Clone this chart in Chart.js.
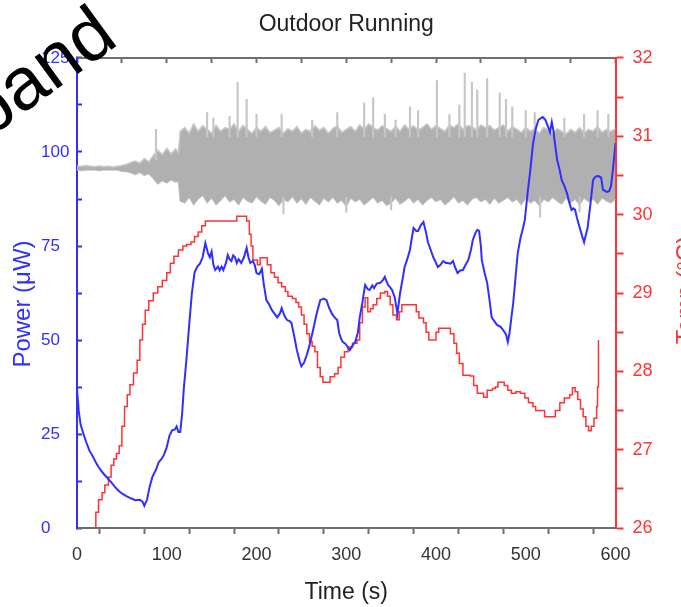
<!DOCTYPE html>
<html>
<head>
<meta charset="utf-8">
<script src="https://cdn.jsdelivr.net/npm/chart.js@4.4.0/dist/chart.umd.min.js"></script>
<style>
  html, body { margin: 0; padding: 0; background: #fff; overflow: hidden; }
  #wrap { width: 681px; height: 607px; }
</style>
</head>
<body>
<div id="wrap"><canvas id="run" width="681" height="607"></canvas></div>
<script>
// axis ticks that carry a label
const timeTicks = [0, 100, 200, 300, 400, 500, 600];
const powerTicks = [0, 25, 50, 75, 100, 125];
const tempTicks = [26, 27, 28, 29, 30, 31, 32];

// harvested power (uW)
const powerT = [0, 2, 4, 7, 10, 14, 18, 22, 26, 30, 34, 38, 42, 46, 50, 55, 60, 65, 70, 73, 75, 78, 81, 84, 88, 91, 94, 97,
    100, 103, 106, 109, 111, 113, 115, 117, 119, 122, 125, 128, 131, 134, 137, 140, 143, 146, 148, 150, 152, 154, 157, 159,
    161, 163, 166, 168, 170, 172, 174, 176, 178, 180, 183, 186, 189, 191, 193, 196, 198, 200, 203, 206, 208, 211, 214, 217,
    220, 223, 226, 228, 231, 234, 237, 239, 242, 245, 248, 250, 253, 256, 259, 263, 267, 271, 275, 278, 281, 284, 287, 290,
    292, 294, 296, 299, 302, 304, 307, 310, 313, 315, 318, 321, 324, 326, 329, 331, 334, 338, 341, 343, 345, 347, 349, 351,
    354, 357, 360, 363, 365, 368, 371, 373, 375, 378, 380, 383, 386, 389, 391, 394, 397, 400, 402, 405, 408, 411, 413, 416,
    419, 421, 424, 427, 430, 433, 436, 439, 441, 444, 446, 448, 450, 451, 454, 457, 460, 462, 465, 468, 472, 475, 478, 480,
    482, 484, 486, 488, 491, 494, 497, 499, 502, 505, 508, 511, 514, 517, 519, 522, 525, 527, 529, 531, 532, 535, 538, 540,
    543, 546, 548, 551, 553, 555, 557, 560, 563, 565, 567, 569, 572, 575, 578, 581, 584, 586, 590, 593, 595, 597, 600];
const powerV = [37, 31, 27.5, 25.2, 23, 20.5, 18.9, 17, 15.5, 14.3, 13.3, 12.2, 11, 10, 9.2, 8.5, 7.9, 7.4, 7.5, 7, 5.9, 7.5, 11, 13.6, 15.5, 17.5, 18.3, 19.5,
    21.5, 24.5, 26, 26.2, 27, 25.5, 25.5, 30, 37, 45, 54, 62.5, 68, 69.5, 70.3, 72, 75.8, 73, 72, 73.5, 70, 68.6, 69.5, 68.5,
    69.5, 68.6, 70.5, 72.6, 71.5, 71, 72.5, 72, 70.5, 71.5, 70.5, 72, 74.5, 72, 70.5, 71, 70, 67.8, 67.5, 68.9, 65, 60.6, 59.5, 58,
    57, 56, 57, 58.5, 56.5, 55.3, 55, 54.5, 51, 47.3, 44.5, 43, 44, 46, 48.5, 52.6, 57, 60.6, 61, 60.6, 58.5, 57, 56, 55.3,
    52, 50.5, 49.5, 49, 48, 47.3, 48.5, 49.5, 52, 56, 60, 64.6, 63.5, 63.3, 64.5, 63.8, 65, 65.2, 66, 66.8, 65.5, 64.5, 64, 63.3,
    61.4, 57, 62.5, 66.5, 69.4, 71.5, 74, 77, 79.8, 79, 79, 80.5, 81.4, 78.5, 76, 74, 72, 70.5, 69.4, 70, 71, 70.5, 70.5, 70.3,
    71, 69.5, 67.8, 68.5, 68.6, 70, 71.3, 74, 76.6, 78.5, 79.3, 79, 75, 71.3, 68, 65.2, 60, 56, 55, 54, 53.5, 52.6, 51.5, 49.5,
    52, 56, 59.8, 65, 73, 77, 79.8, 82, 89, 95, 102, 106, 108.5, 109, 109.3, 108.5, 106.6, 105.3, 108, 105.5, 103.2, 97.9, 95, 92.6,
    91, 89, 87, 84.6, 85, 84.6, 82.5, 80, 77.5, 76, 78, 80, 86, 92.6, 93.5, 93.6, 93.2, 90, 89.4, 89.6, 91, 95, 102.4];

// temperature (C)
const tempT = [18, 21, 24, 28, 31, 35, 38, 41, 44, 47, 50, 53, 56, 59, 63, 67, 70, 73, 76, 80, 85, 90, 95, 100, 104, 108,
    113, 118, 122, 127, 131, 135, 139, 143, 150, 160, 170, 175, 178, 186, 189, 192, 194, 196, 201, 204, 209, 212, 216, 220,
    224, 228, 232, 235, 240, 244, 247, 250, 253, 256, 259, 262, 265, 268, 271, 274, 279, 282, 287, 291, 294, 298, 302, 307,
    312, 315, 318, 321, 324, 327, 330, 334, 338, 343, 346, 349, 352, 356, 359, 362, 368, 375, 378, 381, 386, 389, 392, 397,
    400, 403, 412, 416, 420, 423, 426, 430, 438, 442, 446, 453, 457, 463, 466, 469, 473, 476, 480, 484, 489, 494, 499, 503,
    508, 511, 518, 521, 529, 533, 538, 543, 549, 552, 555, 558, 561, 564, 567, 570, 573, 576, 579, 580, 581];
const tempV = [26, 26.2, 26.36, 26.45, 26.55, 26.65, 26.8, 26.88, 26.95, 27.05, 27.3, 27.55, 27.7, 27.83, 27.98, 28.14, 28.4, 28.6, 28.78, 28.9, 29, 29.08, 29.16, 29.26, 29.38, 29.47,
    29.55, 29.6, 29.62, 29.65, 29.72, 29.78, 29.86, 29.92, 29.92, 29.92, 29.92, 29.92, 29.98, 29.98, 29.92, 29.75, 29.6, 29.42, 29.36, 29.45, 29.45, 29.36, 29.26, 29.2,
    29.13, 29.08, 29.02, 28.96, 28.93, 28.88, 28.82, 28.72, 28.6, 28.48, 28.38, 28.32, 28.25, 28.05, 27.93, 27.86, 27.86, 27.93, 27.97, 28.05, 28.18, 28.25, 28.31, 28.36,
    28.4, 28.62, 28.82, 28.94, 28.76, 28.8, 28.85, 28.93, 29, 29.02, 28.96, 28.85, 28.72, 28.66, 28.76, 28.85, 28.85, 28.85, 28.76, 28.68, 28.62, 28.5, 28.4, 28.4,
    28.5, 28.55, 28.55, 28.48, 28.36, 28.23, 28.1, 27.95, 27.94, 27.82, 27.72, 27.67, 27.76, 27.78, 27.8, 27.86, 27.86, 27.82, 27.76, 27.72, 27.74, 27.72, 27.66, 27.6,
    27.55, 27.5, 27.5, 27.42, 27.42, 27.5, 27.6, 27.66, 27.7, 27.79, 27.74, 27.64, 27.52, 27.42, 27.3, 27.24, 27.3, 27.4, 27.55, 27.8, 28.4];

// raw signal envelope, drawn on the power scale
const noiseT = [0, 5, 10, 15, 20, 25, 30, 35, 40, 45, 50, 55, 60, 65, 70, 75, 80, 85, 90, 95, 100, 105, 110, 113, 115,
    120, 125, 130, 135, 140, 145, 150, 155, 160, 165, 170, 175, 180, 185, 190, 195, 200, 205, 210, 215, 220, 225, 230, 235,
    240, 245, 250, 255, 260, 265, 270, 275, 280, 285, 290, 295, 300, 305, 310, 315, 320, 325, 330, 335, 340, 345, 350, 355,
    360, 365, 370, 375, 380, 385, 390, 395, 400, 405, 410, 415, 420, 425, 430, 435, 440, 445, 450, 455, 460, 465, 470, 475,
    480, 485, 490, 495, 500, 505, 510, 515, 520, 525, 530, 535, 540, 545, 550, 555, 560, 565, 570, 575, 580, 585, 590, 595, 600];
const noiseHi = [96.3, 96.2, 96.4, 96.2, 96.1, 96.3, 96.1, 96.2, 96, 96.2, 96.4, 96.7, 97.2, 97.6, 97, 98.3, 97.4, 99, 100.5, 99.3, 101, 99.5, 100.8, 99.8, 105.5,
    106.5, 105, 107.5, 105.5, 107, 106, 105, 107, 105.5, 106.5, 106, 107.5, 105.5, 107, 106, 105, 106.5, 105.5, 106.8, 105.2, 105.8, 106.5, 105, 106.2,
    105.5, 106.8, 105, 106, 105.5, 107, 105.8, 106.5, 105, 106.2, 107, 105.2, 106, 106.8, 105.5, 107.2, 106, 107.5, 106.5, 105.8, 107, 106.2, 105.5, 106.8,
    105.5, 107.2, 106, 107, 105.8, 106.5, 107.5, 106, 107, 106.2, 105.5, 107.2, 106.5, 107.5, 106, 107, 106.8, 105.8, 107.2, 106.5, 107, 105.8, 106.5, 107.2,
    105.5, 106.8, 106, 105.2, 106.5, 105.5, 106.2, 105, 106.5, 105.8, 105, 106.2, 105.5, 104.8, 106, 105.2, 106.5, 105, 106, 105.5, 106.8, 105.2, 106, 105.5, 106.2];
const noiseLo = [95.2, 95.1, 95.2, 95.3, 95.2, 95.1, 95.3, 95.2, 95.3, 95.2, 94.9, 94.8, 94.5, 94, 94.6, 93.8, 94.2, 93, 91.5, 92.4, 91.8, 92.6, 92, 92.3, 87,
    86.5, 88, 86, 87.5, 88.5, 86.5, 87.8, 86, 87.2, 88.5, 86.8, 87.5, 86, 88, 87, 86.5, 88.2, 87, 86.2, 88, 87.2, 85.8, 87.5, 86.8,
    88.2, 86.5, 87.6, 86.2, 88, 87, 86, 87.8, 86.8, 88, 86.5, 87.2, 85.5, 87.8, 86.8, 87.5, 86, 87, 88, 86.5, 87.2, 85.8, 86.5, 87.8,
    86.2, 87, 88, 86.5, 87.5, 86, 87.2, 88, 86.8, 87.5, 86, 87, 88.2, 86.5, 87.2, 86, 87.5, 88, 86.8, 87.5, 86.2, 87.8, 86.5, 87.2,
    88, 86.8, 87.5, 86, 87.8, 86.5, 87.2, 85.8, 87.5, 86.8, 88, 87, 86.2, 87.8, 86.5, 87.5, 86, 87.8, 86.8, 87.5, 86.2, 87.8, 87, 86.5, 87.5];

// isolated spikes of the raw signal
const spikeT = [88, 145, 152, 170, 179, 189, 200, 228, 262, 290, 320, 330, 343, 355, 371, 380, 401, 415, 426, 432, 440, 446, 457,
    471, 478, 485, 500, 510, 543, 565, 580, 592, 230, 300, 350, 516, 560];
const spikeLo = [98, 104, 104, 104, 104, 104, 104, 104, 104, 104, 104, 104, 104, 104, 104, 104, 104, 104, 104, 104, 104, 104, 104,
    104, 104, 104, 104, 104, 104, 104, 104, 104, 83.5, 84, 84.6, 82.7, 84];
const spikeHi = [106, 110.5, 109, 109.5, 118.5, 114, 110, 110, 108.5, 110.5, 113, 114.5, 110, 108.5, 112, 111, 119, 110, 112.5, 121, 118.5, 116.5, 119.5,
    115.7, 114, 112, 111, 110.5, 109, 110, 111, 110, 88, 88, 88, 88, 88];

const blue = '#2f2fff';
const red = '#ff3333';
const grey = '#6f6f6f';
const fontName = '"Liberation Sans", Arial, sans-serif';

const xy = (xs, ys) => xs.map((x, i) => ({ x: x, y: ys[i] }));

// axis titles that read bottom-to-top on both sides, plus the overlay word
const sideText = {
    id: 'sideText',
    afterDraw(chart) {
        const ctx = chart.ctx;
        const r = chart.scales.y1;
        const mid = (r.top + r.bottom) / 2;
        ctx.save();
        ctx.textAlign = 'center';
        ctx.textBaseline = 'middle';
        ctx.font = '24px ' + fontName;
        ctx.fillStyle = red;
        ctx.translate(686, mid - 3);
        ctx.rotate(-Math.PI / 2);
        ctx.fillText('Temp (°C)', 0, 0);
        ctx.restore();

        ctx.save();
        ctx.textAlign = 'center';
        ctx.textBaseline = 'middle';
        ctx.font = '24px ' + fontName;
        ctx.fillStyle = blue;
        ctx.translate(23, mid + 11);
        ctx.rotate(-Math.PI / 2);
        ctx.fillText('Power (μW)', 0, 0);
        ctx.restore();

        ctx.save();
        ctx.fillStyle = '#000';
        ctx.font = '74px ' + fontName;
        ctx.translate(-13, 140);
        ctx.rotate(-36 * Math.PI / 180);
        ctx.fillText('band', 0, 0);
        ctx.restore();
    }
};

new Chart(document.getElementById('run').getContext('2d'), {
    type: 'line',
    data: {
        datasets: [{
            label: 'Power',
            data: xy(powerT, powerV),
            yAxisID: 'y',
            borderColor: blue,
            borderWidth: 2,
            pointRadius: 0,
            tension: 0,
            order: 0
        }, {
            label: 'Temp',
            data: xy(tempT, tempV),
            yAxisID: 'y1',
            borderColor: red,
            borderWidth: 1.5,
            pointRadius: 0,
            stepped: true,
            order: 1
        }, {
            type: 'bar',
            label: 'Spikes',
            data: spikeT.map((t, i) => ({ x: t, y: [spikeLo[i], spikeHi[i]] })),
            yAxisID: 'y',
            backgroundColor: '#c6c6c6',
            borderWidth: 0,
            barThickness: 1.5,
            order: 2
        }, {
            label: 'Signal hi',
            data: xy(noiseT, noiseHi),
            yAxisID: 'y',
            borderColor: '#c8c8c8',
            borderWidth: 1.5,
            backgroundColor: '#b0b0b0',
            fill: '+1',
            pointRadius: 0,
            tension: 0,
            order: 3
        }, {
            label: 'Signal lo',
            data: xy(noiseT, noiseLo),
            yAxisID: 'y',
            borderColor: '#c8c8c8',
            borderWidth: 1.5,
            pointRadius: 0,
            tension: 0,
            order: 4
        }]
    },
    options: {
        responsive: false,
        animation: false,
        layout: { padding: { left: 41, right: 0, top: 0, bottom: 0 } },
        plugins: {
            legend: { display: false },
            tooltip: { enabled: false },
            title: {
                display: true,
                fullSize: false,
                text: 'Outdoor Running',
                color: '#222',
                font: { family: fontName, size: 23, weight: 'normal' },
                padding: { top: 11, bottom: 5 }
            }
        },
        scales: {
            x: {
                type: 'linear',
                position: 'bottom',
                min: 0,
                max: 600,
                offset: false,
                afterFit: (s) => { s.height = 79; },
                border: { color: grey, width: 2 },
                grid: { drawOnChartArea: false, tickLength: 6, tickColor: grey, tickWidth: 2 },
                ticks: {
                    stepSize: 50,
                    autoSkip: false,
                    maxRotation: 0,
                    padding: 10,
                    color: '#333',
                    font: { family: fontName, size: 18 },
                    callback: (v) => timeTicks.includes(v) ? v : ''
                },
                title: {
                    display: true,
                    text: 'Time (s)',
                    color: '#222',
                    font: { family: fontName, size: 23 },
                    padding: { top: 4, bottom: 1 }
                }
            },
            x2: {
                type: 'linear',
                position: 'top',
                min: 0,
                max: 600,
                afterFit: (s) => { s.height = 14.4; },
                border: { color: grey, width: 2 },
                grid: { drawOnChartArea: false, tickLength: -5, tickColor: grey, tickWidth: 2 },
                ticks: { stepSize: 50, autoSkip: false, display: false }
            },
            y: {
                type: 'linear',
                position: 'left',
                min: 0,
                max: 125,
                afterFit: (s) => { s.width = 36; },
                border: { color: blue, width: 2 },
                grid: { drawOnChartArea: false, tickLength: -5, tickColor: blue, tickWidth: 2 },
                ticks: {
                    stepSize: 12.5,
                    autoSkip: false,
                    crossAlign: 'far',
                    color: blue,
                    font: { family: fontName, size: 17 },
                    callback: (v) => powerTicks.includes(v) ? v : ''
                }
            },
            y1: {
                type: 'linear',
                position: 'right',
                min: 26,
                max: 32,
                afterFit: (s) => { s.width = 65.5; },
                border: { color: red, width: 2 },
                grid: { drawOnChartArea: false, tickLength: 8, tickColor: red, tickWidth: 2 },
                ticks: {
                    stepSize: 0.5,
                    autoSkip: false,
                    padding: 9,
                    color: red,
                    font: { family: fontName, size: 18 },
                    callback: (v) => tempTicks.includes(v) ? v : ''
                }
            }
        }
    },
    plugins: [sideText]
});
</script>
</body>
</html>
